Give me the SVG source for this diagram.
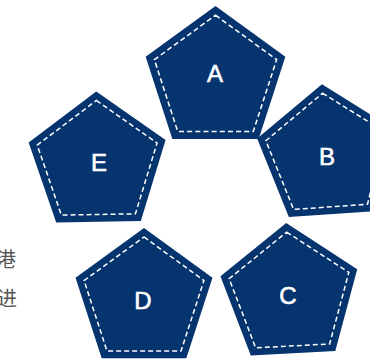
<svg xmlns="http://www.w3.org/2000/svg" width="370" height="361" viewBox="0 0 370 361">
<defs>
<style>
.outer{fill:#05346f;}
.inner{fill:none;stroke:#ffffff;stroke-width:1.5;stroke-dasharray:5 3;}
.lbl{fill:#ffffff;stroke:#ffffff;stroke-width:0.6;font-family:"Liberation Sans",Arial,sans-serif;font-size:24px;text-anchor:middle;}
.side{fill:#555555;font-family:"Noto Sans CJK SC",sans-serif;font-size:20px;}
</style>
<polygon id="pOut" class="outer" points="0,-72 68.48,-22.25 42.32,58.25 -42.32,58.25 -68.48,-22.25"/>
<polygon id="pIn" class="inner" points="0,-63 59.92,-19.47 37.03,50.97 -37.03,50.97 -59.92,-19.47"/>
</defs>
<rect width="370" height="361" fill="#ffffff"/>
<g id="side-text">
<text class="side" x="-4" y="267">港</text>
<text class="side" x="-3" y="306">进</text>
</g>
<g id="connectors"></g>
<g id="node-A">
<g transform="translate(215.5,79.5) scale(1.02)"><use href="#pOut"/><use href="#pIn"/></g>
<text class="lbl" x="215" y="81.5">A</text>
</g>
<g id="node-B">
<g transform="translate(327,156) rotate(-4)"><use href="#pOut"/><use href="#pIn"/></g>
<text class="lbl" x="327" y="164.5">B</text>
</g>
<g id="node-C">
<g transform="translate(290,295) rotate(-3)"><use href="#pOut"/><use href="#pIn"/></g>
<text class="lbl" x="288" y="303.5">C</text>
</g>
<g id="node-D">
<g transform="translate(144,300)"><use href="#pOut"/><use href="#pIn"/></g>
<text class="lbl" x="143" y="308.5">D</text>
</g>
<g id="node-E">
<g transform="translate(97.5,163.5) rotate(-1)"><use href="#pOut"/><use href="#pIn"/></g>
<text class="lbl" x="99" y="170.5">E</text>
</g>
</svg>
